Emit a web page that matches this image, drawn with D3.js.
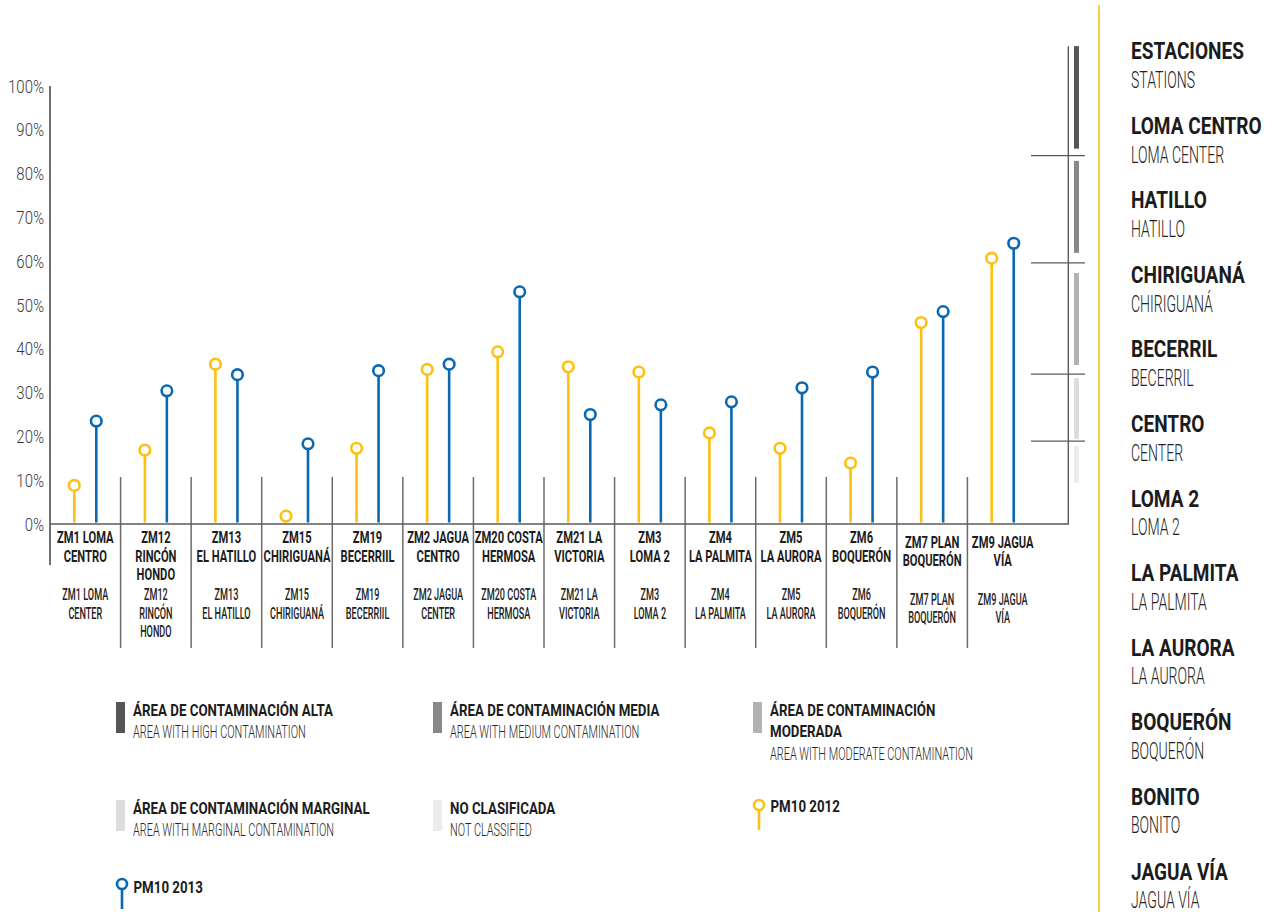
<!DOCTYPE html>
<html>
<head>
<meta charset="utf-8">
<script src="https://cdn.jsdelivr.net/npm/d3@7"></script>
<style>
  html, body { margin: 0; padding: 0; background: #fff; }
  svg { display: block; }
</style>
</head>
<body>
<svg id="chart" width="1271" height="912"></svg>
<script>
// ---------------- DATA ----------------
const categories = ["ZM1","ZM12","ZM13","ZM15","ZM19","ZM2","ZM20","ZM21","ZM3","ZM4","ZM5","ZM6","ZM7","ZM9"];
const labelsEs = [
  ["ZM1 LOMA","CENTRO"],["ZM12","RINCÓN","HONDO"],["ZM13","EL HATILLO"],["ZM15","CHIRIGUANÁ"],
  ["ZM19","BECERRIIL"],["ZM2 JAGUA","CENTRO"],["ZM20 COSTA","HERMOSA"],["ZM21 LA","VICTORIA"],
  ["ZM3","LOMA 2"],["ZM4","LA PALMITA"],["ZM5","LA AURORA"],["ZM6","BOQUERÓN"],
  ["ZM7 PLAN","BOQUERÓN"],["ZM9 JAGUA","VÍA"]
];
const labelsEn = [
  ["ZM1 LOMA","CENTER"],["ZM12","RINCÓN","HONDO"],["ZM13","EL HATILLO"],["ZM15","CHIRIGUANÁ"],
  ["ZM19","BECERRIIL"],["ZM2 JAGUA","CENTER"],["ZM20 COSTA","HERMOSA"],["ZM21 LA","VICTORIA"],
  ["ZM3","LOMA 2"],["ZM4","LA PALMITA"],["ZM5","LA AURORA"],["ZM6","BOQUERÓN"],
  ["ZM7 PLAN","BOQUERÓN"],["ZM9 JAGUA","VÍA"]
];
const pm10_2012 = [8.8, 16.9, 36.5, 1.8, 17.3, 35.3, 39.3, 35.9, 34.7, 20.8, 17.3, 13.9, 46.0, 60.7];
const pm10_2013 = [23.5, 30.4, 34.1, 18.3, 35.0, 36.5, 53.0, 25.0, 27.2, 27.9, 31.1, 34.7, 48.5, 64.1];
const yTicks = [0, 10, 20, 30, 40, 50, 60, 70, 80, 90, 100];

// contamination classes (percent scale): thresholds between classes and the drawn segments
const bandKeys    = ["alta", "media", "moderada", "marginal", "nc"];
const thresholds  = [84.1, 59.6, 34.2, 18.9];
const bandTop     = [109.1, 82.9, 57.3, 33.3, 17.8];
const bandBottom  = [85.7, 61.9, 36.3, 19.4, 9.4];
const bandColors  = ["#555555", "#888888", "#b2b2b2", "#dcdcdc", "#ececec"];

// legend
const legendTitles = ["ÁREA DE CONTAMINACIÓN ALTA", "ÁREA DE CONTAMINACIÓN MEDIA", "ÁREA DE CONTAMINACIÓN|MODERADA",
                      "ÁREA DE CONTAMINACIÓN MARGINAL", "NO CLASIFICADA"];
const legendSubs = ["AREA WITH HIGH CONTAMINATION", "AREA WITH MEDIUM CONTAMINATION", "AREA WITH MODERATE CONTAMINATION",
                    "AREA WITH MARGINAL CONTAMINATION", "NOT CLASSIFIED"];
const seriesNames = ["PM10 2012", "PM10 2013"];
const seriesColors = ["#FDC010", "#0A68B2"];

// right panel stations
const stationsEs = ["ESTACIONES","LOMA CENTRO","HATILLO","CHIRIGUANÁ","BECERRIL","CENTRO","LOMA 2","LA PALMITA","LA AURORA","BOQUERÓN","BONITO","JAGUA VÍA"];
const stationsEn = ["STATIONS","LOMA CENTER","HATILLO","CHIRIGUANÁ","BECERRIL","CENTER","LOMA 2","LA PALMITA","LA AURORA","BOQUERÓN","BONITO","JAGUA VÍA"];

// ---------------- HELPERS (condensed type) ----------------
const FONT = "Roboto, 'Liberation Sans', 'DejaVu Sans', sans-serif";
const svg = d3.select("#chart");

function measure(str, size, weight) {
  const t = svg.append("text").attr("font-family", FONT).attr("font-size", size)
    .attr("font-weight", weight).text(str);
  const w = t.node().getComputedTextLength();
  t.remove();
  return w;
}
function style(size, weight, fill, refStr, refWidth, anchor) {
  return { size, weight, fill, anchor: anchor || "start", sx: refWidth / measure(refStr, size, weight) };
}
function txt(parent, x, y, str, st) {
  return parent.append("text")
    .attr("transform", `translate(${x},${y}) scale(${st.sx},1)`)
    .attr("font-family", FONT).attr("font-size", st.size).attr("font-weight", st.weight)
    .attr("fill", st.fill).attr("text-anchor", st.anchor).text(str);
}

const stTick     = style(19, 300, "#3a3a3a", "100%", 36, "end");
const stCatEs    = style(16, 700, "#1c1c1c", "ZM20 COSTA", 68, "middle");
const stCatEn    = style(16, 500, "#222222", "ZM20 COSTA", 55, "middle");
const stLegTitle = style(17, 700, "#1c1c1c", "ÁREA DE CONTAMINACIÓN ALTA", 200);
const stLegSub   = style(17.5, 300, "#262626", "AREA WITH HIGH CONTAMINATION", 173);
const stRpTitle  = style(24, 700, "#1c1c1c", "ESTACIONES", 113);
const stRpSub    = style(23, 300, "#222222", "STATIONS", 64);

// ---------------- CHART ----------------
const axisColor = "#5a5a5a";
const x = d3.scaleBand().domain(categories).range([50, 1038]);
const bw = x.bandwidth();
const xs = d3.scalePoint().domain(seriesNames).range([bw / 2 - 11, bw / 2 + 11]);
const y = d3.scaleLinear().domain([0, 100]).range([524, 86]);

// y tick labels
const tickG = svg.append("g");
yTicks.forEach(t => txt(tickG, 44, y(t) + 6.5, t + "%", stTick));

// y axis line
svg.append("line").attr("x1", 50).attr("x2", 50).attr("y1", y(100)).attr("y2", 565)
  .attr("stroke", "#707070").attr("stroke-width", 2);

// category separators
svg.append("g").selectAll("line").data(categories.slice(0, -1)).join("line")
  .attr("x1", d => x(d) + bw).attr("x2", d => x(d) + bw)
  .attr("y1", 477).attr("y2", 648)
  .attr("stroke", "#6a6a6a").attr("stroke-width", 1.5);

// baseline + right frame
svg.append("line").attr("x1", 50).attr("x2", 1069).attr("y1", y(0)).attr("y2", y(0))
  .attr("stroke", axisColor).attr("stroke-width", 1.6);
svg.append("line").attr("x1", 1068.3).attr("x2", 1068.3).attr("y1", y(bandTop[0])).attr("y2", y(0))
  .attr("stroke", axisColor).attr("stroke-width", 1.4);

// threshold ticks on the right frame
svg.append("g").selectAll("line").data(thresholds).join("line")
  .attr("x1", 1031).attr("x2", 1085).attr("y1", d => y(d)).attr("y2", d => y(d))
  .attr("stroke", axisColor).attr("stroke-width", 1.2);

// class segments
svg.append("g").selectAll("rect").data(bandKeys).join("rect")
  .attr("x", 1074).attr("width", 5)
  .attr("y", (d, i) => y(bandTop[i]))
  .attr("height", (d, i) => y(bandBottom[i]) - y(bandTop[i]))
  .attr("fill", (d, i) => bandColors[i]);

// lollipops
[pm10_2012, pm10_2013].forEach((vals, si) => {
  const g = svg.append("g");
  const data = categories.map((c, i) => ({ c, v: vals[i] }));
  const cx = d => x(d.c) + xs(seriesNames[si]);
  g.selectAll("line").data(data).join("line")
    .attr("x1", cx).attr("x2", cx)
    .attr("y1", y(0) - 1.5).attr("y2", d => y(d.v))
    .attr("stroke", seriesColors[si]).attr("stroke-width", 2.6);
  g.selectAll("circle").data(data).join("circle")
    .attr("cx", cx).attr("cy", d => y(d.v)).attr("r", 5.3)
    .attr("fill", "#fff").attr("stroke", seriesColors[si]).attr("stroke-width", 2.6);
});

// category labels
const catG = svg.append("g");
categories.forEach((c, i) => {
  const cx = x(c) + bw / 2;
  const shift = i >= 12 ? 4.5 : 0;
  labelsEs[i].forEach((l, k) => txt(catG, cx, 543 + shift + k * 18.7, l, stCatEs));
  labelsEn[i].forEach((l, k) => txt(catG, cx, 600 + shift + k * 18.7, l, stCatEn));
});

// legend
const legX = [116, 433, 753, 116, 433];
const legY = [702, 702, 702, 800, 800];
const legG = svg.append("g");
bandKeys.forEach((k, i) => {
  legG.append("rect").attr("x", legX[i]).attr("y", legY[i]).attr("width", 9).attr("height", 31)
    .attr("fill", bandColors[i]);
  const lines = legendTitles[i].split("|");
  lines.forEach((l, j) => txt(legG, legX[i] + 17, legY[i] + 13.5 + j * 21.5, l, stLegTitle));
  txt(legG, legX[i] + 17, legY[i] + 35.5 + (lines.length - 1) * 22, legendSubs[i], stLegSub);
});
const serLegX = [759, 122];
const serLegY = [805, 884];
seriesNames.forEach((s, i) => {
  legG.append("line").attr("x1", serLegX[i]).attr("x2", serLegX[i]).attr("y1", serLegY[i]).attr("y2", serLegY[i] + 25)
    .attr("stroke", seriesColors[i]).attr("stroke-width", 2.6);
  legG.append("circle").attr("cx", serLegX[i]).attr("cy", serLegY[i]).attr("r", 5)
    .attr("fill", "#fff").attr("stroke", seriesColors[i]).attr("stroke-width", 2.6);
  txt(legG, serLegX[i] + 11.5, serLegY[i] + (i === 0 ? 7 : 8.5), s, stLegTitle);
});

// right panel
svg.append("line").attr("x1", 1099).attr("x2", 1099).attr("y1", 5).attr("y2", 912)
  .attr("stroke", "#F7C21A").attr("stroke-width", 1.6);
const rp = svg.append("g");
stationsEs.forEach((s, i) => {
  txt(rp, 1131, 59 + i * 74.6, s, stRpTitle);
  txt(rp, 1131, 88 + i * 74.5, stationsEn[i], stRpSub);
});
</script>
</body>
</html>
